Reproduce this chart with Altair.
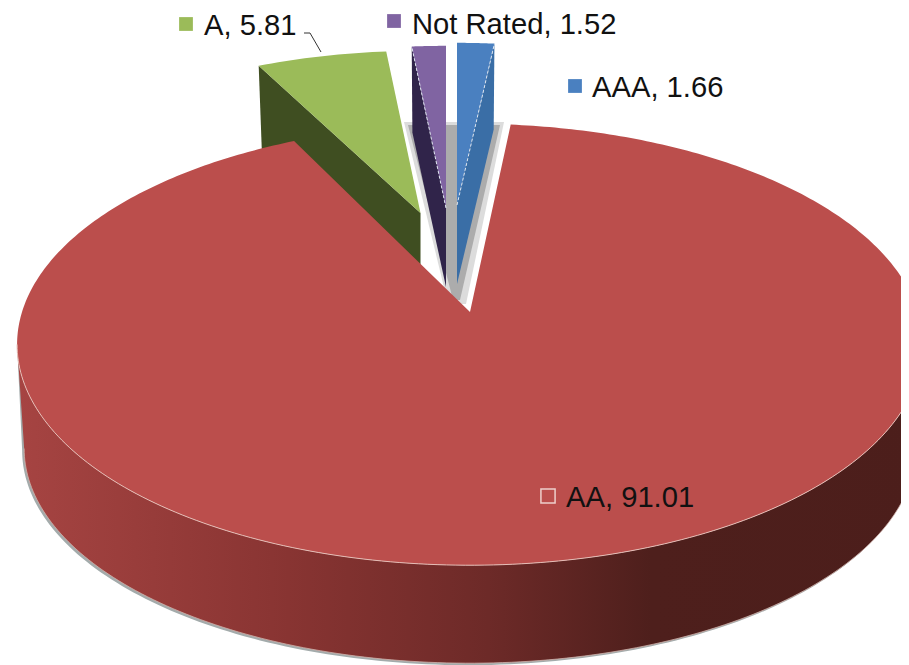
import numpy as np
import pandas as pd
import altair as alt

# Values
categories = ["AAA", "AA", "A", "Not Rated"]
values = [1.66, 91.01, 5.81, 1.52]
labels = ["AAA, 1.66", "AA, 91.01", "A, 5.81", "Not Rated, 1.52"]
top_colors = ["#4a80c0", "#bb4e4c", "#9bbb59", "#8064a2"]
wall_colors = ["#3a6ea6", "#7a2f2d", "#3f4e21", "#30244a"]
label_x = [592, 566, 204, 412]
label_y = [97, 507, 35, 34]
key_x = [575, 548, 186, 394]
key_y = [86, 496, 24, 21]

# Projection of the tilted disc
K = 0.147
ANGLE_TOTAL = 360.0
cum = np.cumsum([0] + values) / sum(values) * ANGLE_TOTAL
start = dict(zip(categories, cum[:-1]))
end = dict(zip(categories, cum[1:]))


def rim(theta, tip, R, Q):
    t = np.radians(theta)
    u, v = np.sin(t), np.cos(t)
    d = 1 + K * v
    return tip[0] + R * u / d, tip[1] - Q * v / d


X = alt.X("x:Q", scale=alt.Scale(domain=[8, 901]), axis=None)
Y = alt.Y("y:Q", scale=alt.Scale(domain=[665, 8]), axis=None)


def poly(xs, ys, fill, stroke=None, sw=1.0, closed=True, dash=None):
    xs, ys = list(xs), list(ys)
    if closed:
        xs.append(xs[0])
        ys.append(ys[0])
    df = pd.DataFrame({"x": xs, "y": ys, "i": range(len(xs))})
    kw = dict(clip=True, strokeWidth=sw)
    if fill is not None:
        kw["fill"] = fill
    if stroke is not None:
        kw["stroke"] = stroke
    else:
        kw["strokeOpacity"] = 0
    if dash:
        kw["strokeDash"] = dash
    return alt.Chart(df).mark_line(**kw).encode(x=X, y=Y, order="i:Q")


layers = []

# Shadow behind the exploded small slices
layers.append(poly([404, 504, 466, 448], [122, 122, 304, 304], "#dcdcdc"))
layers.append(poly([408, 500, 460, 453], [125, 125, 300, 300], "#acacac"))

# Small exploded slices
SMALL_R, SMALL_Q = 412, 186
LOW_R, LOW_Q = 404, 178
TH = 79


def small_slice(cat, tip, cut_angle):
    a0, a1 = start[cat], end[cat]
    idx = categories.index(cat)
    low = (tip[0], tip[1] + TH)
    ox, oy = rim(cut_angle, tip, SMALL_R, SMALL_Q)
    lx, ly = rim(cut_angle, low, LOW_R, LOW_Q)
    wall = poly([tip[0], ox, lx, low[0]], [tip[1], oy, ly, low[1]], wall_colors[idx])
    th = np.linspace(a0, a1, 20)
    rx, ry = rim(th, tip, SMALL_R, SMALL_Q)
    top = poly([tip[0]] + list(rx), [tip[1]] + list(ry), top_colors[idx])
    edge = poly([tip[0], ox], [tip[1], oy], None, stroke="#dfe6f0", sw=1, closed=False, dash=[3, 2])
    return [wall, top, edge]


layers += small_slice("Not Rated", (446, 208), start["Not Rated"])
layers += small_slice("AAA", (457, 205), end["AAA"])
layers += small_slice("A", (420.5, 213), start["A"])[:2]

# Main slice
TIP = (470, 312)
R, Q = 448, 216
R2, Q2 = 441, 210
D = 105
front = np.linspace(98.45, 261.55, 160)
tx, ty = rim(front, TIP, R, Q)
bx, by = rim(front, (TIP[0], TIP[1] + D), R2, Q2)
layers.append(poly(list(tx) + list(bx[::-1] - 2), list(ty) + list(by[::-1] + 2), "#a3abab"))
wall_grad = alt.Gradient(
    gradient="linear", x1=0, x2=1, y1=0, y2=0,
    stops=[
        alt.GradientStop(offset=0, color="#a64442"),
        alt.GradientStop(offset=0.3, color="#883432"),
        alt.GradientStop(offset=0.52, color="#6d2a28"),
        alt.GradientStop(offset=0.7, color="#4e1f1c"),
        alt.GradientStop(offset=1, color="#4c1e1b"),
    ],
)
layers.append(poly(list(tx) + list(bx[::-1]), list(ty) + list(by[::-1]), wall_grad))
layers.append(poly(bx, by, None, stroke="#d0b0aa", sw=0.8, closed=False))
th = np.linspace(start["AA"], end["AA"], 400)
rx, ry = rim(th, TIP, R, Q)
layers.append(poly([TIP[0]] + list(rx), [TIP[1]] + list(ry), top_colors[1]))
layers.append(poly(tx, ty, None, stroke="#e6bdb6", sw=1, closed=False))

# Leader line of the A label
layers.append(poly([304, 310, 321], [33, 33, 52], None, stroke="#333333", sw=1, closed=False))

# Keys and labels
key_df = pd.DataFrame({"x": key_x, "y": key_y, "c": top_colors})
for i in [0, 2, 3]:
    layers.append(
        alt.Chart(key_df.iloc[[i]]).mark_square(size=190, color=top_colors[i], opacity=1).encode(x=X, y=Y)
    )
layers.append(
    alt.Chart(key_df.iloc[[1]])
    .mark_square(size=200, filled=False, stroke="#eecfcb", strokeWidth=1.5, opacity=1)
    .encode(x=X, y=Y)
)
text_df = pd.DataFrame({"x": label_x, "y": label_y, "t": labels})
layers.append(
    alt.Chart(text_df)
    .mark_text(align="left", baseline="alphabetic", font="Liberation Sans", fontSize=29.2, color="#111111")
    .encode(x=X, y=Y, text="t:N")
)

chart = (
    alt.layer(*layers)
    .properties(width=893, height=657, padding=0, autosize=alt.AutoSizeParams(type="none"), background="white")
    .configure_view(stroke=None)
)
chart.save("out.html", embed_options={"renderer": "svg", "actions": False})
